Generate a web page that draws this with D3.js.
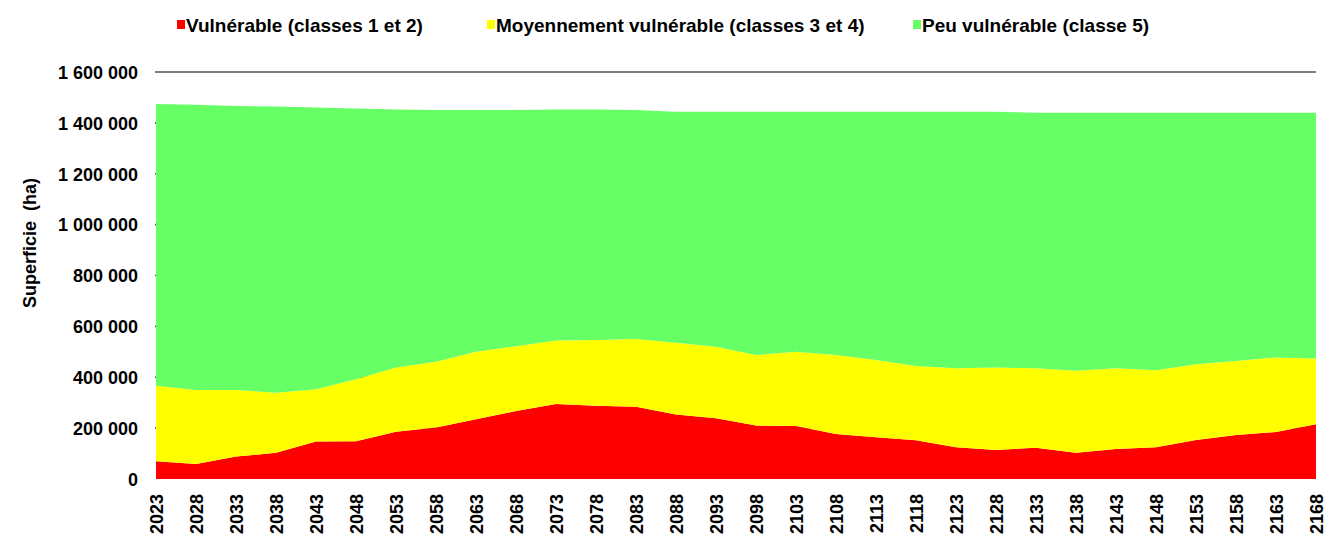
<!DOCTYPE html>
<html lang="fr">
<head>
    <meta charset="UTF-8">
    <script src="https://d3js.org/d3.v7.min.js"></script>
    <style>
        body { margin: 0; background: #fff; }
        text { font-family: "Liberation Sans", Arial, sans-serif; font-weight: bold; fill: #000; }
    </style>
</head>
<body>
    <div id="chart"></div>

    <script>
        // years (every 5 years)
        var years = [2023, 2028, 2033, 2038, 2043, 2048, 2053, 2058, 2063, 2068,
            2073, 2078, 2083, 2088, 2093, 2098, 2103, 2108, 2113, 2118,
            2123, 2128, 2133, 2138, 2143, 2148, 2153, 2158, 2163, 2168];

        // surfaces in ha
        var vulnerable = [70000, 59000, 88000, 103000, 147000, 148000, 186000, 202000, 235000, 267000,
            295000, 288000, 284000, 254000, 239000, 210000, 208000, 177000, 164000, 152000,
            125000, 114000, 123000, 103000, 118000, 125000, 153000, 173000, 185000, 215000];
        var moyen = [297000, 291000, 262000, 236000, 206000, 244000, 252000, 259000, 265000, 255000,
            249000, 258000, 266000, 282000, 281000, 277000, 292000, 310000, 304000, 292000,
            310000, 324000, 312000, 323000, 317000, 303000, 298000, 291000, 293000, 259000];
        var peu = [1107000, 1121000, 1116000, 1125000, 1107000, 1065000, 1015000, 990000, 951000, 929000,
            909000, 907000, 901000, 908000, 924000, 957000, 944000, 957000, 976000, 1000000,
            1009000, 1006000, 1005000, 1014000, 1005000, 1012000, 989000, 976000, 962000, 966000];

        var yTicks = [0, 200000, 400000, 600000, 800000, 1000000, 1200000, 1400000, 1600000];

        var seriesNames = ["Vulnérable (classes 1 et 2)", "Moyennement vulnérable (classes 3 et 4)", "Peu vulnérable (classe 5)"];
        var seriesColors = ["#ff0000", "#ffff00", "#66ff66"];

        var W = 1325, H = 534;

        var svg = d3.select("#chart")
            .append("svg")
            .attr("width", W)
            .attr("height", H);

        var x = d3.scaleLinear()
            .domain([years[0], years[years.length - 1]])
            .range([156, 1316]);

        var y = d3.scaleLinear()
            .domain([0, 1600000])
            .range([479, 72]);

        var rows = years.map(function (yr, i) {
            return { year: yr, v: vulnerable[i], m: moyen[i], p: peu[i] };
        });

        var stack = d3.stack().keys(["v", "m", "p"]);
        var layers = stack(rows);

        // grid lines (behind the areas, only the top one stays visible)
        svg.append("g")
            .selectAll("line")
            .data(yTicks.filter(function (d) { return d > 0; }))
            .enter().append("line")
            .attr("x1", 155)
            .attr("x2", 1316)
            .attr("y1", function (d) { return y(d); })
            .attr("y2", function (d) { return y(d); })
            .attr("stroke", "#555")
            .attr("stroke-width", 1.6);

        var area = d3.area()
            .x(function (d) { return x(d.data.year); })
            .y0(function (d) { return y(d[0]); })
            .y1(function (d) { return y(d[1]); });

        svg.append("g")
            .selectAll("path")
            .data(layers)
            .enter().append("path")
            .attr("d", area)
            .attr("fill", function (d, i) { return seriesColors[i]; });

        // y axis labels
        var fmt = function (d) { return d3.format(",")(d).replace(/,/g, " "); };
        var yAxis = d3.axisLeft(y)
            .tickValues(yTicks)
            .tickSize(0)
            .tickPadding(0)
            .tickFormat(fmt);
        var gy = svg.append("g")
            .attr("transform", "translate(138,0)")
            .call(yAxis);
        gy.select(".domain").remove();
        gy.selectAll("text")
            .attr("dy", "0.35em")
            .style("font-size", "18px")
            .style("font-family", "'Liberation Sans', Arial, sans-serif")
            .style("font-weight", "bold")
            .attr("fill", "#000");

        // x axis labels
        var xAxis = d3.axisBottom(x)
            .tickValues(years)
            .tickSize(0)
            .tickFormat(d3.format("d"));
        var gx = svg.append("g")
            .attr("transform", "translate(0,479)")
            .call(xAxis);
        gx.select(".domain").remove();
        gx.selectAll("text")
            .attr("transform", "rotate(-90)")
            .attr("text-anchor", "end")
            .attr("x", -15)
            .attr("y", 0)
            .attr("dy", "0.35em")
            .style("font-size", "18px")
            .style("font-family", "'Liberation Sans', Arial, sans-serif")
            .style("font-weight", "bold")
            .attr("fill", "#000");

        // y title
        svg.append("text")
            .attr("transform", "translate(30,243) rotate(-90)")
            .attr("text-anchor", "middle")
            .attr("dy", "0.35em")
            .style("font-size", "18px")
            .style("white-space", "pre")
            .text("Superficie  (ha)");

        // legend
        var legendX = [177, 487, 913];
        var leg = svg.append("g")
            .selectAll("g")
            .data(seriesNames)
            .enter().append("g")
            .attr("transform", function (d, i) { return "translate(" + legendX[i] + ",0)"; });
        leg.append("rect")
            .attr("x", 0)
            .attr("y", 20)
            .attr("width", 8)
            .attr("height", 9)
            .attr("fill", function (d, i) { return seriesColors[i]; });
        leg.append("text")
            .attr("x", 9)
            .attr("y", 32)
            .style("font-size", "19px")
            .text(function (d) { return d; });
    </script>
</body>
</html>
